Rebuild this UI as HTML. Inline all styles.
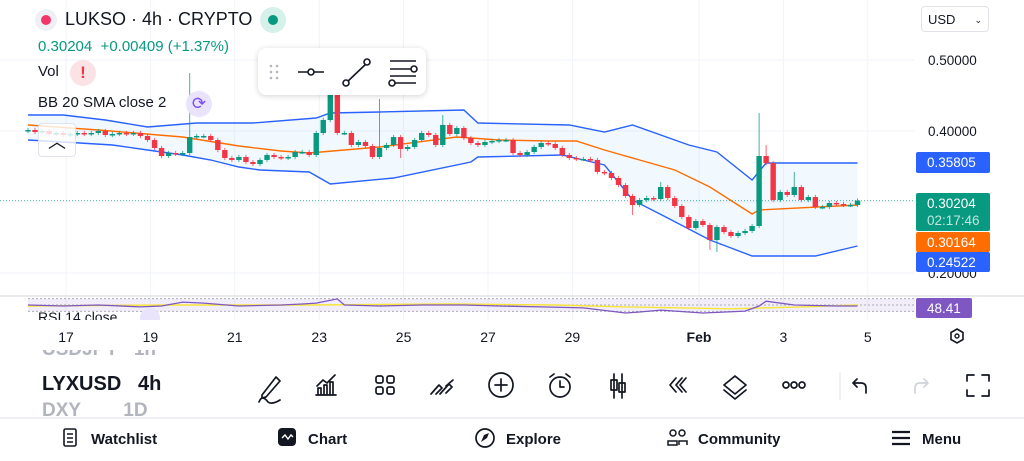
<!DOCTYPE html>
<html><head><meta charset="utf-8">
<style>
body{margin:0;width:1024px;height:461px;overflow:hidden;background:#fff;font-family:"Liberation Sans",sans-serif;position:relative;color:#131722}
.abs{position:absolute}
svg text{font-family:"Liberation Sans",sans-serif}
</style></head><body>
<svg id="chart" class="abs" style="left:0;top:0" width="1024" height="350"></svg>

<div class="abs" style="left:35px;top:9px;width:22px;height:22px;border-radius:50%;background:#eef0f5"><div style="margin:6px;width:10px;height:10px;border-radius:50%;background:#f23669"></div></div>
<div class="abs" style="left:65px;top:9px;font-size:18px;color:#131722">LUKSO · 4h · CRYPTO</div>
<div class="abs" style="left:260px;top:7px;width:26px;height:26px;border-radius:50%;background:#d6f0ea"><div style="margin:8px;width:10px;height:10px;border-radius:50%;background:#089981"></div></div>
<div class="abs" style="left:38px;top:38px;font-size:15px;color:#089981">0.30204&nbsp; +0.00409 (+1.37%)</div>
<div class="abs" style="left:38px;top:63px;font-size:15px">Vol</div>
<div class="abs" style="left:70px;top:60px;width:26px;height:26px;border-radius:50%;background:#fbe3e5;color:#f23645;font-weight:bold;text-align:center;line-height:26px;font-size:17px">!</div>
<div class="abs" style="left:38px;top:94px;font-size:15px">BB 20 SMA close 2</div>
<div class="abs" style="left:186px;top:91px;width:26px;height:26px;border-radius:50%;background:#e9e3fb;color:#7b4ff0;text-align:center;line-height:26px;font-size:17px">⟳</div>
<div class="abs" style="left:38px;top:123px;width:36px;height:32px;border:1px solid #e0e3eb;border-radius:4px;background:rgba(255,255,255,.8);text-align:center;font-size:18px;line-height:36px">︿</div>

<div class="abs" style="left:258px;top:48px;width:168px;height:47px;background:#fff;border-radius:8px;box-shadow:0 1px 6px rgba(0,0,0,.18)">
<svg width="168" height="47"><g fill="#b2b5be"><circle cx="13" cy="18" r="1.3"/><circle cx="19" cy="18" r="1.3"/><circle cx="13" cy="24" r="1.3"/><circle cx="19" cy="24" r="1.3"/><circle cx="13" cy="30" r="1.3"/><circle cx="19" cy="30" r="1.3"/></g>
<g stroke="#131722" stroke-width="1.6" fill="#fff"><line x1="40" y1="24" x2="66" y2="24"/><circle cx="53" cy="24" r="3"/><line x1="88" y1="35" x2="109" y2="15"/><circle cx="88" cy="35" r="3"/><circle cx="109" cy="14" r="3"/><line x1="132" y1="13" x2="158" y2="13"/><line x1="132" y1="21" x2="155" y2="21"/><line x1="132" y1="28" x2="158" y2="28"/><line x1="136" y1="35" x2="158" y2="35"/><circle cx="156" cy="21" r="3"/><circle cx="134" cy="35" r="3"/></g></svg></div>

<div class="abs" style="left:921px;top:6px;width:68px;height:26px;border:1px solid #e0e3eb;border-radius:4px;font-size:13px;line-height:26px;padding-left:6px;box-sizing:border-box">USD<span style="position:absolute;right:6px;font-size:9px">⌄</span></div>

<div class="abs" style="left:42px;top:350px;width:140px;height:67px;overflow:hidden">
<div style="position:absolute;top:-11px;font-size:19px;color:#b2b5be;font-weight:bold">USDJPY&nbsp;&nbsp; 1h</div>
<div style="position:absolute;top:23px;font-size:20px;font-weight:bold;color:#131722">LYXUSD&nbsp;&nbsp; 4h</div>
<div style="position:absolute;top:50px;font-size:19px;color:#b2b5be;font-weight:bold">DXY&nbsp;&nbsp;&nbsp;&nbsp;&nbsp;&nbsp;&nbsp; 1D</div></div>

<svg class="abs" style="left:0;top:350px" width="1024" height="111">
<g stroke="#131722" stroke-width="1.7" fill="none" stroke-linecap="round" stroke-linejoin="round">
<g><path d="M262 45 L276 27 L280 31 L266 47 L262 48 Z M259 52 Q262 44 268 52 Q272 55 280 50"/></g>
<g><path d="M316 45 h20 M318 44 v-6 h3 v6 M324 44 v-9 h3 v9 M330 44 v-12 h3 v12 M317 36 l6-6 4 3 8-8"/></g>
<g><rect x="376" y="26" width="7" height="7" rx="2"/><rect x="387" y="26" width="7" height="7" rx="2"/><rect x="376" y="37" width="7" height="7" rx="2"/><rect x="387" y="37" width="7" height="7" rx="2"/></g>
<g><path d="M431 44 l8-9 3 3 -6 6 M440 44 l9-10 3 3 -6 6 M446 36 l7-6"/></g>
<g><circle cx="501" cy="35" r="12"/><path d="M501 29 v12 M495 35 h12"/></g>
<g><circle cx="560" cy="37" r="10"/><path d="M560 31 v6 h4 M550 27 l4-3 M570 27 l-4-3"/></g>
<g><path d="M614 24 v24 M622 24 v24"/><rect x="611" y="30" width="6" height="10"/><rect x="619" y="33" width="6" height="9"/></g>
<g><path d="M676 28 l-6 7 6 7 M682 28 l-6 7 6 7 M686 28 l-6 7 6 7"/></g>
<g><path d="M735 26 l11 9 -11 9 -11 -9 Z M724 40 l11 9 11-9"/></g>
<g><circle cx="786" cy="35" r="3"/><circle cx="794" cy="35" r="3"/><circle cx="802" cy="35" r="3"/></g>
<g><path d="M866 43 v-5 q0-5 -5-5 h-8 M857 29 l-4 4 4 4"/></g>
<g stroke="#d1d4dc"><path d="M915 43 v-5 q0-5 5-5 h8 M924 29 l4 4 -4 4"/></g>
<g><path d="M967 31 v-6 h7 M982 25 h7 v6 M989 40 v6 h-7 M974 46 h-7 v-6"/></g>
</g>
<line x1="840" y1="22" x2="840" y2="50" stroke="#e0e3eb"/>
<line x1="0" y1="68" x2="1024" y2="68" stroke="#e0e3eb"/>
<g><rect x="64" y="79" width="12" height="17" rx="1.5" fill="none" stroke="#131722" stroke-width="1.6"/><path d="M67 84h6M67 88h6M67 92h6" stroke="#131722" stroke-width="1.4"/><text x="91" y="94" font-size="15" font-weight="bold" fill="#131722">Watchlist</text></g>
<g><rect x="278" y="78" width="18" height="18" rx="4" fill="#131722"/><path d="M282 88 l3-3 3 4 3-4 2 2" stroke="#fff" stroke-width="1.4" fill="none"/><text x="308" y="94" font-size="15" font-weight="bold" fill="#131722">Chart</text></g>
<g><circle cx="485" cy="88" r="9" fill="none" stroke="#131722" stroke-width="1.7"/><path d="M481 92 l3-7 5-2 -2 5 z" fill="#131722"/><text x="506" y="94" font-size="15" font-weight="bold" fill="#131722">Explore</text></g>
<g><circle cx="673" cy="83" r="3" fill="none" stroke="#131722" stroke-width="1.5"/><circle cx="682" cy="83" r="3" fill="none" stroke="#131722" stroke-width="1.5"/><path d="M668 95 v-4 h9 v4 z M679 95 v-4 h8 v4" fill="none" stroke="#131722" stroke-width="1.5"/><text x="698" y="94" font-size="15" font-weight="bold" fill="#131722">Community</text></g>
<g><path d="M892 82h18M892 88h18M892 94h18" stroke="#131722" stroke-width="2.2"/><text x="922" y="94" font-size="15" font-weight="bold" fill="#131722">Menu</text></g>
</svg>

<script>
const closes=[.4014,.3986,.4000,.3958,.3972,.3944,.3958,.3972,.3958,.3972,.4000,.3944,.3958,.3972,.3958,.3972,.3930,.3873,.3761,.3648,.3690,.3676,.3690,.3915,.3930,.3930,.3873,.3732,.3620,.3592,.3634,.3563,.3535,.3592,.3662,.3634,.3620,.3634,.3704,.3704,.3662,.3972,.4155,.4507,.3972,.3972,.3803,.3845,.3789,.3634,.3761,.3803,.3915,.3746,.3775,.3873,.3972,.3944,.3803,.4085,.3958,.4042,.3901,.3831,.3803,.3845,.3859,.3873,.3873,.3690,.3662,.3704,.3775,.3831,.3817,.3761,.3662,.3620,.3606,.3606,.3592,.3423,.3408,.3338,.3239,.3085,.2958,.3028,.3056,.3042,.3211,.3056,.2944,.2789,.2634,.2732,.2676,.2465,.2648,.2577,.2521,.2563,.2592,.2662,.3648,.3549,.3028,.3141,.3099,.3211,.3028,.3070,.2930,.2930,.2986,.2972,.2958,.2958,.3020];
const firstOpen=.4000;
const highIdx=[23,43,44,50,59,90,104,105,109];
const highVals=[.4817,.5100,.4600,.4451,.4225,.3282,.4254,.3803,.3423];
const lowIdx=[53,86,97,98];
const lowVals=[.3620,.2817,.2324,.2296];
const upperIdx=[0,5,11,17,24,32,41,43,50,62,64,77,82,86,94,98,103,105,118];
const upperVals=[.4225,.4225,.4155,.4056,.4113,.4113,.4183,.4254,.4268,.4296,.4113,.4085,.3986,.4085,.3803,.3704,.3310,.3549,.3549];
const midIdx=[0,10,22,30,36,40,50,61,67,74,78,82,87,92,97,103,104,118];
const midVals=[.4085,.4014,.3915,.3789,.3718,.3690,.3775,.3915,.3873,.3859,.3859,.3732,.3592,.3451,.3211,.2831,.2887,.2958];
const lowerIdx=[0,5,12,17,22,26,30,33,40,43,52,63,64,76,79,82,86,91,97,103,112,118];
const lowerVals=[.3873,.3845,.3803,.3732,.3662,.3592,.3493,.3451,.3423,.3254,.3338,.3563,.3634,.3662,.3592,.3521,.3028,.2775,.2465,.2239,.2239,.2380];
const rsiIdx=[0,5,10,16,19,22,25,30,36,39,41,44,45,50,56,62,67,73,79,85,87,90,96,102,104,105,109,115,118];
const rsiVals=[50,47,50,44,47,59,56,47,50,53,56,69,50,47,50,50,47,44,41,25,28,34,25,31,47,62,50,47,47];
const rsiMaIdx=[0,20,40,60,75,85,100,110,118];
const rsiMaVals=[47,50,50,53,50,44,38,44,50];
const priceTicks=[0.5,0.4,0.3,0.2];
const dateLabels=["17","19","21","23","25","27","29","Feb","3","5"];
const dateDays=[17,19,21,23,25,27,29,32,34,36];

const NS="http://www.w3.org/2000/svg";
const svg=document.getElementById('chart');
const X0=28,STEP=7.03;
const xi=i=>X0+i*STEP;
const yp=p=>60+(0.5-p)*710;
const xd=d=>66+(d-17)*42.2;
const yr=v=>321-v*0.32;
function mk(t,a,parent){const e=document.createElementNS(NS,t);for(const k in a)e.setAttribute(k,a[k]);(parent||svg).appendChild(e);return e;}
function pts(idx,vals,fy){return idx.map((i,k)=>xi(i).toFixed(1)+','+fy(vals[k]).toFixed(1)).join(' ');}

dateDays.forEach(d=>{const l=mk('line',{x1:xd(d),x2:xd(d),y1:0,y2:322,stroke:'#f0f3fa'});

});
priceTicks.forEach(p=>{const l=mk('line',{x1:0,x2:915,y1:yp(p),y2:yp(p),stroke:'#f0f3fa'});

});

const up=pts(upperIdx,upperVals,yp), lo=pts(lowerIdx.slice().reverse(),lowerVals.slice().reverse(),yp);
const fill=mk('polygon',{points:up+' '+lo,fill:'#2196f3','fill-opacity':'0.06'});


const bu=mk('polyline',{points:up,fill:'none',stroke:'#2962ff','stroke-width':1.4});


const bl=mk('polyline',{points:pts(lowerIdx,lowerVals,yp),fill:'none',stroke:'#2962ff','stroke-width':1.4});


const bm=mk('polyline',{points:pts(midIdx,midVals,yp),fill:'none',stroke:'#ff6d00','stroke-width':1.4});



const lp=mk('line',{x1:0,x2:915,y1:yp(closes[closes.length-1]),y2:yp(closes[closes.length-1]),stroke:'#089981','stroke-dasharray':'1 2','stroke-opacity':.7});



closes.forEach((c,i)=>{
  const o=i?closes[i-1]:firstOpen;
  const col=c>=o?'#089981':'#f23645';
  let h=Math.max(o,c)+0.003,l=Math.min(o,c)-0.003;
  const hi=highIdx.indexOf(i); if(hi>=0)h=highVals[hi];
  const li=lowIdx.indexOf(i); if(li>=0)l=lowVals[li];
  const g=mk('g',{});
  
  
  mk('line',{x1:xi(i),x2:xi(i),y1:yp(h),y2:yp(l),stroke:col,'stroke-width':1,'stroke-opacity':.75},g);
  const t=yp(Math.max(o,c)),b=yp(Math.min(o,c));
  mk('rect',{x:xi(i)-2.7,y:t,width:5.4,height:Math.max(1.5,b-t),fill:col},g);
});

const sep=mk('line',{x1:0,x2:1024,y1:296,y2:296,stroke:'#d1d4dc'});


const rb=mk('rect',{x:28,y:yr(70),width:887,height:yr(30)-yr(70),fill:'#7e57c2','fill-opacity':.1});


[70,50,30].forEach(v=>{const l=mk('line',{x1:28,x2:915,y1:yr(v),y2:yr(v),stroke:'#787b86','stroke-dasharray':'2 2','stroke-opacity':.6});

});
const rm=mk('polyline',{points:pts(rsiMaIdx,rsiMaVals,yr),fill:'none',stroke:'#f7e536','stroke-width':1.4});


const rl=mk('polyline',{points:pts(rsiIdx,rsiVals,yr),fill:'none',stroke:'#7e57c2','stroke-width':1.3});


const rt=mk('text',{x:38,y:322,'font-size':14,fill:'#131722'});rt.textContent='RSI 14 close';


const rbadge=mk('circle',{cx:150,cy:318,r:10,fill:'#e9e3fb'});


const cover=mk('rect',{x:0,y:320,width:1024,height:30,fill:'#fff'});



priceTicks.forEach(p=>{const t=mk('text',{x:928,y:yp(p)+5,'font-size':13.5,fill:'#131722'});t.textContent=p.toFixed(5);

});
function tag(y,h,bg,lines,name,w){
  const g=mk('g',{});
  
  
  mk('rect',{x:916,y:y,width:w||74,height:h,rx:2,fill:bg},g);
  lines.forEach((s,k)=>{const t=mk('text',{x:927,y:y+15+k*17,'font-size':13.5,fill:k?'#bfe7de':'#fff'},g);t.textContent=s;});
}
tag(152,21,'#2962ff',['0.35805'],'upper-band-price-tag');
tag(193,38,'#089981',['0.30204','02:17:46'],'last-price-tag');
tag(232,20,'#ff6d00',['0.30164'],'basis-price-tag');
tag(252,20,'#2962ff',['0.24522'],'lower-band-price-tag');
tag(298,20,'#7e57c2',['48.41'],'rsi-value-tag',56);

dateLabels.forEach((s,k)=>{const t=mk('text',{x:xd(dateDays[k]),y:342,'font-size':14,fill:'#131722','text-anchor':'middle','font-weight':s==='Feb'?'bold':'normal'});t.textContent=s;

});
const st=mk('path',{d:'M957 329 l6 3.5 v7 l-6 3.5 -6-3.5 v-7z',fill:'none',stroke:'#131722','stroke-width':1.6});


mk('circle',{cx:957,cy:336,r:2,fill:'none',stroke:'#131722','stroke-width':1.4});
</script>
</body></html>
